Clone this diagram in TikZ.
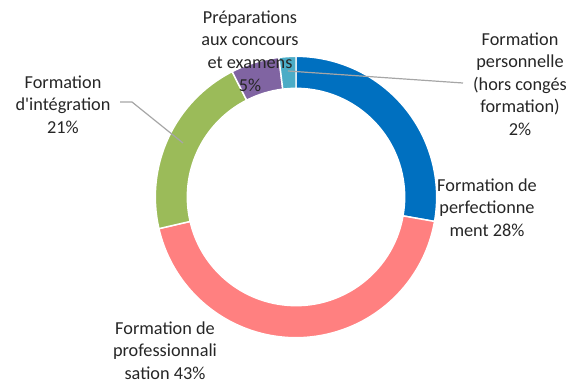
\documentclass[tikz,border=0pt]{standalone}
\usepackage{fontspec}
\setmainfont{Carlito}
\definecolor{cblue}{HTML}{0070C0}
\definecolor{cpink}{HTML}{FF8080}
\definecolor{cgreen}{HTML}{9BBB59}
\definecolor{cpurple}{HTML}{8064A2}
\definecolor{cteal}{HTML}{4BACC6}
\definecolor{cleader}{HTML}{A6A6A6}
\definecolor{ctext}{HTML}{262626}
\newcommand\donutseg[3]{\filldraw[seg, fill=#3] ([shift={(c)}]#1:105.5pt) arc[start angle=#1, end angle=#2, radius=105.5pt] -- ([shift={(c)}]#2:81.5pt) arc[start angle=#2, end angle=#1, radius=81.5pt] -- cycle;}
\begin{document}
\begin{tikzpicture}[x=0.75pt,y=0.75pt,
 lbl/.style={align=center, inner sep=0pt, font=\fontsize{13.7}{16.9}\selectfont, text=ctext},
 leader/.style={draw=cleader, line width=0.9pt},
 seg/.style={draw=white, line width=1.1pt}]
\useasboundingbox (0,0) rectangle (583,-383);
\coordinate (c) at (296,-197);
\donutseg{-10}{90}{cblue}
\donutseg{-167}{-10}{cpink}
\donutseg{117}{193}{cgreen}
\donutseg{97}{117}{cpurple}
\donutseg{90}{97}{cteal}
\coordinate (t1) at (288,-71);
\coordinate (pe) at (463,-83);
\draw[leader] (t1) -- (pe);
\coordinate (gi) at (183,-143);
\coordinate (ge) at (132,-102);
\coordinate (gf) at (120,-102);
\draw[leader] (gi) -- (ge) -- (gf);
\node[lbl] (conc) at (250,-51) {Préparations\\aux concours\\et examens\\5\%};
\node[lbl] (pers) at (520,-84) {Formation\\personnelle\\(hors congés\\formation)\\2\%};
\node[lbl] (perf) at (487,-207.5) {Formation de\\perfectionne\\ment 28\%};
\node[lbl] (integ) at (63,-104.5) {Formation\\d\textquotesingle intégration\\21\%};
\node[lbl] (prof) at (165,-350.5) {Formation de\\professionnali\\sation 43\%};
\end{tikzpicture}
\end{document}
